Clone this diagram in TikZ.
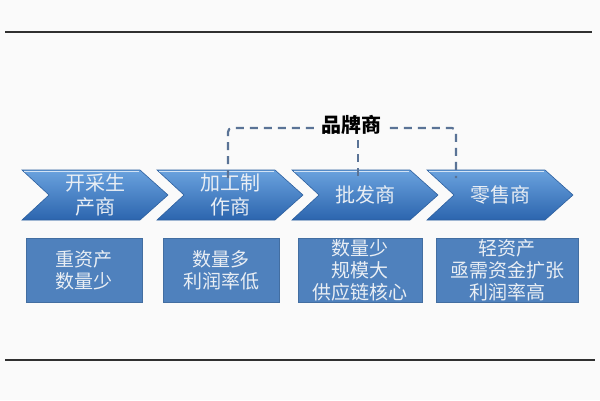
\documentclass[tikz,border=0pt]{standalone}
\usepackage{fontspec}
\newfontfamily\cjk{Noto Sans CJK SC}
\definecolor{bgcol}{HTML}{FAFAFA}
\definecolor{rulecol}{HTML}{303030}
\definecolor{chevtop}{HTML}{6AA2DE}
\definecolor{chevbot}{HTML}{2C65AE}
\definecolor{chevedge}{HTML}{2D609F}
\definecolor{boxcol}{HTML}{4F81BD}
\definecolor{conncol}{HTML}{5A7396}
\definecolor{txtcol}{HTML}{E9EEF4}
\tikzset{
  chevtext/.style={text=txtcol, align=center, font=\cjk\fontsize{20}{24}\selectfont, inner sep=0pt},
  infobox/.style={fill=boxcol, draw=boxcol!85!black, line width=0.5pt, minimum height=64pt, align=center,
    text=txtcol, font=\cjk\fontsize{19}{22}\selectfont, inner sep=0pt},
  conn/.style={draw=conncol, line width=2.2pt, dash pattern=on 8pt off 6pt, rounded corners=4pt},
  brandlabel/.style={font=\cjk\bfseries\fontsize{20}{22}\selectfont, text=black, fill=bgcol, inner sep=3pt}
}
\newcommand\mychev[3]{%
  \shade[top color=chevtop, bottom color=chevbot, draw=chevedge, line width=0.6pt]
    (#2,170) -- ++(118,0) -- ++(28,25) -- ++(-28,25) -- ++(-118,0) -- ++(27,-25) -- cycle;
  \draw[white!70!chevtop, line width=1pt] (#2+2,171.5) -- (#2+117,171.5);
  \node[chevtext] (#1) at (#2+73,195) {#3};
}
\begin{document}
\begin{tikzpicture}[x=1pt,y=-1pt]
\fill[bgcol] (0,0) rectangle (600,400);
\useasboundingbox (0,0) rectangle (600,400);
% rules
\coordinate (r1a) at (5,32); \coordinate (r1b) at (592,32);
\coordinate (r2a) at (5,360); \coordinate (r2b) at (595,360);
\draw[rulecol, line width=1.5pt] (r1a) -- (r1b);
\draw[rulecol, line width=1.5pt] (r2a) -- (r2b);
% chevrons
\mychev{c1}{22}{开采生\\产商}
\mychev{c2}{157}{加工制\\作商}
\mychev{c3}{292}{批发商}
\mychev{c4}{427}{零售商}
% connector
\coordinate (c2top) at (228,178);
\coordinate (c3top) at (358,178);
\coordinate (c4top) at (456,178);
\draw[conn] (c2top) -- (228,128) -- (456,128) -- (c4top);
\node[brandlabel] (brand) at (351,125) {品牌商};
\draw[conn] (c3top |- 0,140) -- (c3top);
% boxes
\node[infobox, minimum width=116pt] (b1) at (84,270) {重资产\\数量少};
\node[infobox, minimum width=116pt] (b2) at (221,270) {数量多\\利润率低};
\node[infobox, minimum width=124pt] (b3) at (360,270) {数量少\\规模大\\供应链核心};
\node[infobox, minimum width=142pt] (b4) at (507,270) {轻资产\\亟需资金扩张\\利润率高};
\end{tikzpicture}
\end{document}
